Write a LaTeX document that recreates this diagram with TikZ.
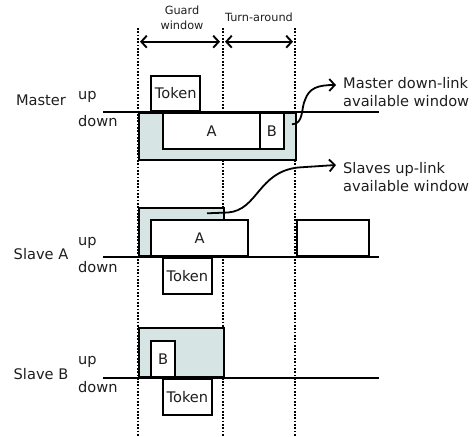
\documentclass[tikz,border=0pt]{standalone}
\usepackage{fontspec}
\setmainfont{DejaVu Sans}
\usetikzlibrary{arrows.meta,positioning,calc}
\definecolor{wincol}{RGB}{214,228,228}
\definecolor{txtcol}{RGB}{30,30,30}

\begin{document}
\begin{tikzpicture}[x=1pt, y=-1pt,
    lab/.style={font=\fontsize{14.6}{18}\selectfont, inner sep=0pt, text=txtcol},
    small/.style={font=\fontsize{11.3}{15}\selectfont, inner sep=0pt, align=center, text=txtcol},
    slot/.style={draw, line width=1.9pt, fill=white, inner sep=0pt, font=\fontsize{14.6}{18}\selectfont, text=txtcol},
    win/.style={draw, line width=1.9pt, fill=wincol, inner sep=0pt},
    tline/.style={line width=1.9pt},
    bound/.style={line width=1.7pt, dash pattern=on 1.7pt off 1.6pt},
    span/.style={line width=1.9pt, {Straight Barb[length=5.5pt,width=12pt]}-{Straight Barb[length=5.5pt,width=12pt]}},
    note/.style={line width=1.8pt, -{Straight Barb[length=5.5pt,width=12pt]}},
]
\useasboundingbox (0,0) rectangle (472,437);

% window boundaries
\coordinate (d1) at (138,28);
\coordinate (d2) at (222.7,28);
\coordinate (d3) at (295,28);
\foreach \d in {d1,d2,d3}
  \draw[bound] (\d) -- ++(0,409);

% guard window / turn-around
\coordinate (ga) at (140,41.7);
\coordinate (gb) at (220,41.7);
\coordinate (ta) at (225,41.7);
\coordinate (tb) at (293,41.7);
\draw[span] (ga) -- (gb);
\draw[span] (ta) -- (tb);
\node[small] (guard) at (182,18) {Guard\\window};
\node[small] (turn) at (259,17) {Turn-around};

% Master
\node[lab] (mname) at (41,100) {Master};
\node[lab, anchor=west] (mup) at (78,96.7) {up};
\node[lab, anchor=west] (mdown) at (78,120.7) {down};
\node[win, anchor=north west, minimum width=157, minimum height=46.7] (mwin) at (138,112.3) {};
\node[slot, anchor=south west, minimum width=49, minimum height=35.6] (mtok) at (150.3,112.3) {Token};
\node[slot, anchor=north west, minimum width=96.7, minimum height=35.4] (ma) at (162.3,112.3) {A};
\node[slot, anchor=north west, minimum width=23.7, minimum height=35.4] (mb) at (259,112.3) {B};
\coordinate (mL) at (103,112.3);
\coordinate (mR) at (379,112.3);
\draw[tline] (mL) -- (mR);

\node[lab, anchor=west, align=left] (mtext) at (343,92.5) {Master down-link\\available window};
\coordinate (mstart) at (292,124.3);
\coordinate (mtip) at (336,85);
\draw[note] (mstart) .. controls (304,124) and (301,108) .. (305,100)
  .. controls (309,88) and (318,85) .. (mtip);

% Slave A
\node[lab] (aname) at (41,254) {Slave A};
\node[lab, anchor=west] (aup) at (78,243) {up};
\node[lab, anchor=west] (adown) at (78,266.7) {down};
\node[win, anchor=south west, minimum width=84.7, minimum height=48] (awin) at (138,257.3) {};
\node[slot, anchor=south west, minimum width=96.7, minimum height=36.3] (aa) at (150.3,257.3) {A};
\node[slot, anchor=south west, minimum width=71.7, minimum height=36.3] (anext) at (296,257.3) {};
\node[slot, anchor=north west, minimum width=48.4, minimum height=36] (atok) at (162.3,257.3) {Token};
\coordinate (aL) at (103,257.3);
\coordinate (aR) at (379,257.3);
\draw[tline] (aL) -- (aR);

\node[lab, anchor=west, align=left] (atext) at (343,177.5) {Slaves up-link\\available window};
\coordinate (astart) at (207,213.3);
\coordinate (atip) at (336,165);
\draw[note] (astart) -- (228,212.5) .. controls (258,210) and (258,172) .. (298,167.5) -- (atip);

% Slave B
\node[lab] (bname) at (41,374) {Slave B};
\node[lab, anchor=west] (bup) at (78,361.7) {up};
\node[lab, anchor=west] (bdown) at (78,386.7) {down};
\node[win, anchor=south west, minimum width=84.7, minimum height=48.4] (bwin) at (138,377.7) {};
\node[slot, anchor=south west, minimum width=24, minimum height=36] (bb) at (150.3,377.7) {B};
\node[slot, anchor=north west, minimum width=48.4, minimum height=36.3] (btok) at (162.3,377.7) {Token};
\coordinate (bL) at (103,377.7);
\coordinate (bR) at (379,377.7);
\draw[tline] (bL) -- (bR);
\end{tikzpicture}
\end{document}
